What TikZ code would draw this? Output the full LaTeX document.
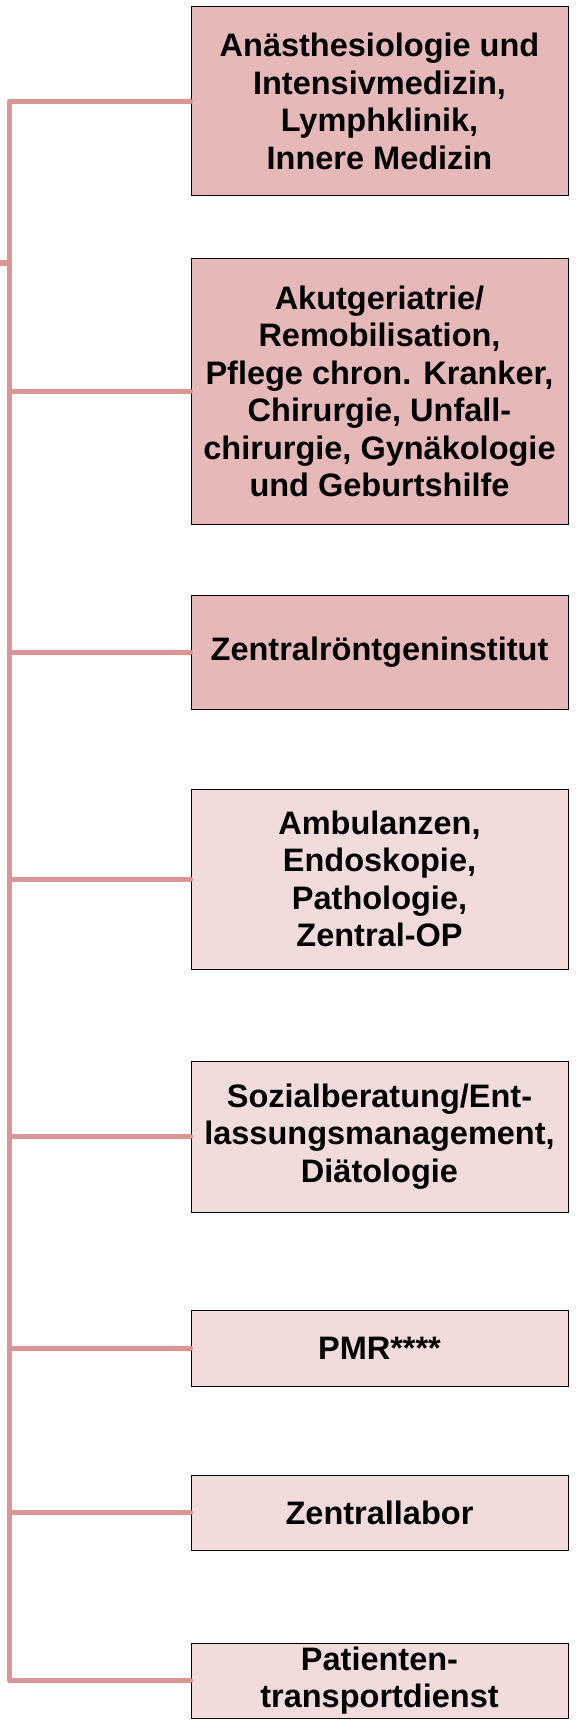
\documentclass[tikz,border=0pt]{standalone}
\usepackage{fontspec}
\setmainfont{Liberation Sans}
\definecolor{linecol}{HTML}{D99694}
\definecolor{darkfill}{HTML}{E6B8B7}
\definecolor{lightfill}{HTML}{F2DCDB}
\tikzset{
  unit/.style={draw=black, line width=1pt, rectangle, minimum width=377pt, inner sep=0pt,
    align=center, font=\fontsize{32.5}{37.5}\selectfont\bfseries},
  darkunit/.style={unit, fill=darkfill},
  lightunit/.style={unit, fill=lightfill},
  conn/.style={draw=linecol, line width=5pt, line cap=round, line join=round}
}
\begin{document}
\begin{tikzpicture}[x=1pt, y=-1pt]
\useasboundingbox (0,0) rectangle (588,1720);
\node[darkunit, minimum height=189pt] (b1) at (379.5,101.5) {Anästhesiologie und\\Intensivmedizin,\\Lymphklinik,\\Innere Medizin};
\node[darkunit, minimum height=265pt] (b2) at (379.5,391.5) {Akutgeriatrie/\\Remobilisation,\\Pflege chron. Kranker,\\Chirurgie, Unfall-\\chirurgie, Gynäkologie\\und Geburtshilfe};
\node[darkunit, minimum height=114pt] (b3) at (379.5,652) {Zentralröntgeninstitut};
\node[lightunit, minimum height=180pt] (b4) at (379.5,879) {Ambulanzen,\\Endoskopie,\\Pathologie,\\Zentral-OP};
\node[lightunit, minimum height=151pt] (b5) at (379.5,1136.5) {Sozialberatung/Ent-\\lassungsmanagement,\\Diätologie};
\node[lightunit, minimum height=76pt] (b6) at (379.5,1348) {PMR****};
\node[lightunit, minimum height=75pt] (b7) at (379.5,1512.5) {Zentrallabor};
\node[lightunit, minimum height=75pt] (b8) at (379.5,1680.5) {Patienten-\\transportdienst};
\coordinate (spine) at (9.5,0);
\coordinate (stub) at (0,263);
\draw[conn] (b1.west) -- (b1.west -| spine) -- (b8.west -| spine) -- (b8.west);
\foreach \b in {b2,b3,b4,b5,b6,b7}{
  \draw[conn] (\b.west) -- (\b.west -| spine);
}
\draw[conn, line cap=butt] (stub) -- (stub -| spine);
\end{tikzpicture}
\end{document}
